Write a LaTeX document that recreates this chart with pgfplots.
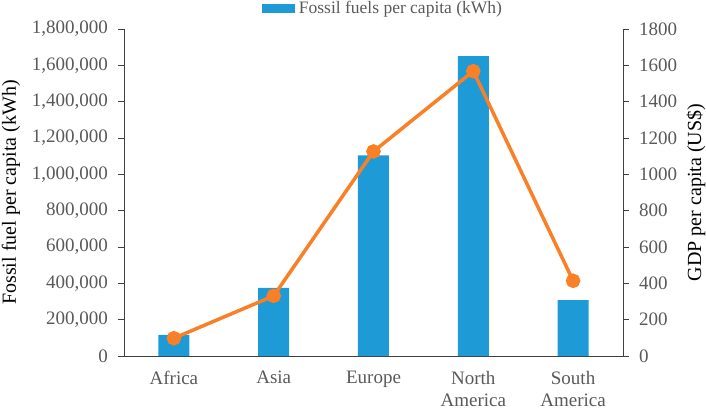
\documentclass[border=0pt]{standalone}
\usepackage{pgfplots}
\pgfplotsset{compat=1.18}
\usepackage{fontspec}
\setmainfont{Liberation Serif}
\definecolor{barblue}{HTML}{1E9AD7}
\definecolor{lineorange}{HTML}{F98026}
\definecolor{txtgray}{HTML}{595959}
\definecolor{axgray}{HTML}{404040}

\begin{document}
\fontsize{19}{23}\selectfont
\begin{tikzpicture}
  \pgfplotsset{
    twin/.style={
      scale only axis, width=499pt, height=327pt,
      xmin=-0.5, xmax=4.5,
      font=\fontsize{19}{22.5}\selectfont,
      tick align=outside, major tick length=6pt,
      axis line style={axgray, line width=0.8pt},
      every tick/.style={axgray, line width=0.8pt},
      tick label style={text=txtgray},
      yticklabel style={inner xsep=10pt},
      /pgf/number format/assume math mode=true,
    },
  }
  \begin{axis}[
    twin,
    ymin=0, ymax=1800000,
    axis y line*=left, axis x line*=bottom,
    xtick={0,...,4},
    xticklabels={Africa, Asia, Europe, {North\\America}, {South\\America}},
    x tick label style={align=center, inner ysep=0pt, yshift=-8.8pt},
    xtick style={draw=none},
    ytick distance=200000, scaled y ticks=false,
    yticklabel style={/pgf/number format/.cd, fixed, 1000 sep={,}},
    ylabel={Fossil fuel per capita (kWh)},
    ylabel style={at={(rel axis cs:0,0.5)}, anchor=base, yshift=108pt,
      font=\fontsize{20}{24}\selectfont},
    legend style={at={(0.519,1.0)}, anchor=south, draw=none, fill=none,
      text=txtgray, font=\fontsize{17.5}{21}\selectfont, yshift=10.5pt,
      inner sep=0pt},
    legend image code/.code={
      \fill[barblue] (0pt,-4.5pt) rectangle (33pt,4.5pt);
      \path (0pt,0pt) -- (35pt,0pt);},
  ]
    \addplot[ybar, bar width=31pt, fill=barblue, draw=none] coordinates {
      (0,116000) (1,375000) (2,1104000) (3,1651000) (4,307000)
    };
    \addlegendentry{Fossil fuels per capita (kWh)}
  \end{axis}
  \begin{axis}[
    twin,
    ymin=0, ymax=1800,
    axis y line*=right, axis x line=none,
    ytick distance=200,
    yticklabel style={/pgf/number format/.cd, fixed, 1000 sep={}},
    ylabel={GDP per capita (US\$)},
    ylabel style={at={(rel axis cs:1,0.5)}, anchor=base, yshift=-78pt,
      font=\fontsize{20}{24}\selectfont},
  ]
    \addplot[lineorange, line width=3.5pt, mark=*, mark size=5.5pt,
      mark options={fill=lineorange, draw=none}] coordinates {
      (0,98) (1,331) (2,1126) (3,1568) (4,414)
    };
  \end{axis}
  \pgfresetboundingbox
  \path[use as bounding box] (current axis.south west) ++(-124pt,-53pt)
    rectangle ++(706pt,409pt);
\end{tikzpicture}
\end{document}
